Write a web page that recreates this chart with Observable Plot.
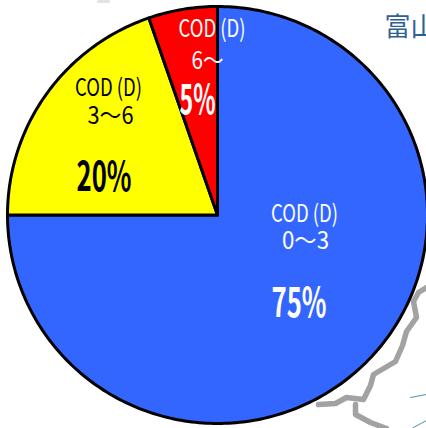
<!DOCTYPE html>
<html><head><meta charset="utf-8">
<script src="https://cdn.jsdelivr.net/npm/d3@7"></script>
<script src="https://cdn.jsdelivr.net/npm/@observablehq/plot@0.6"></script>
<style>html,body{margin:0;padding:0;background:#fff;overflow:hidden}svg{display:block}</style>
</head><body>
<div id="chart"></div>
<script>
const categories = ["0〜3", "3〜6", "6〜"];
const shareLabels = ["75%", "20%", "5%"];
const shares = [75, 19.7, 5.3];
const fills = ["#3366ff", "#ffff00", "#ff0000"];
const textColors = ["#ffffff", "#000000", "#ffffff"];
const metric = "COD (D)";

// Label placement and fitted widths, in picture pixels
const namePos = [[304, 214], [108, 87.5], [211.5, 29]];
const rangePos = [[305, 241], [110, 116], [207, 61]];
const pctPos = [[298.5, 303.5], [103.5, 177.5], [197, 100.5]];
const rangeWidth = [47, 46, 32];
const pctWidth = [55, 55, 36];
const nameWidth = 67;

// Faint background map fragments, behind the pie
const border1 = [[318,404],[335,403],[346,397],[363,399],[370,385],[373,374],[395,361],[402,345],[406,331],[416,317],[413,301],[418,292],[426,287]];
const border2 = [[355,404],[355,414],[370,422],[386,428]];
const river1 = [[410,397],[426,394]];
const river2 = [[413,427],[426,420]];
const smudge = [[98,1],[108,1]];

const W = 426, H = 428, cx = 217, cy = 214.5, Rx = 210, Ry = 208.5;
const px = p => p[0], py = p => p[1];

// Each slice runs clockwise from 12 o'clock by its share of the total
const total = d3.sum(shares);
let cum = 0;
const slices = [];
shares.forEach((v, i) => {
  const a0 = cum / total * 2 * Math.PI; cum += v;
  const a1 = cum / total * 2 * Math.PI;
  const n = Math.ceil((a1 - a0) / (Math.PI / 180));
  slices.push({i, x: cx, y: cy});
  for (let k = 0; k <= n; k++) {
    const a = a0 + (a1 - a0) * k / n;
    slices.push({i, x: cx + Rx * Math.sin(a), y: cy - Ry * Math.cos(a)});
  }
});
const sliceData = i => slices.filter(d => d.i === i);

const font = "'Noto Sans CJK JP',sans-serif";
const normalRows = categories.flatMap((c, i) => [
  {t: metric, p: namePos[i], c: textColors[i], w: nameWidth},
  {t: c, p: rangePos[i], c: textColors[i], w: rangeWidth[i]}
]);
const boldRows = shareLabels.map((t, i) => ({t, p: pctPos[i], c: textColors[i], w: pctWidth[i]}));

// Squeeze a text mark's glyphs to the narrow face seen in the picture
const fit = rows => (index, scales, values, dimensions, context, next) => {
  const g = next(index, scales, values, dimensions, context);
  g.querySelectorAll("text").forEach((el, k) => {
    el.setAttribute("textLength", rows[k].w);
    el.setAttribute("lengthAdjust", "spacingAndGlyphs");
  });
  return g;
};
const xy = {x: d => d.p[0], y: d => d.p[1], text: "t", fill: "c", fontFamily: font};

const plot = Plot.plot({
  width: W, height: H, margin: 0,
  x: {domain: [0, W], range: [0, W], axis: null},
  y: {domain: [0, H], range: [0, H], axis: null},
  style: {background: "#fff"},
  marks: [
    ...[border1, border2].map(b => Plot.line(b, {x: px, y: py, stroke: "#a2a2a2", strokeWidth: 5.5})),
    ...[river1, river2].map(b => Plot.line(b, {x: px, y: py, stroke: "#4d93a3", strokeWidth: 1})),
    Plot.line(smudge, {x: px, y: py, stroke: "#e2e2e2", strokeWidth: 3}),
    Plot.text(["富山"], {
      x: () => 384, y: () => 27, text: d => d, textAnchor: "start", fontSize: 26,
      fontFamily: font, fill: "#2f5f95"
    }),
    ...categories.map((c, i) => Plot.line(sliceData(i), {
      x: "x", y: "y", curve: "linear-closed", fill: fills[i], stroke: "#000", strokeWidth: 3, strokeLinejoin: "round"
    })),
    Plot.text(normalRows, {...xy, fontSize: 24, render: fit(normalRows)}),
    Plot.text(boldRows, {...xy, fontSize: 41, fontWeight: "bold", render: fit(boldRows)})
  ]
});
document.getElementById("chart").append(plot);
</script>
</body></html>
